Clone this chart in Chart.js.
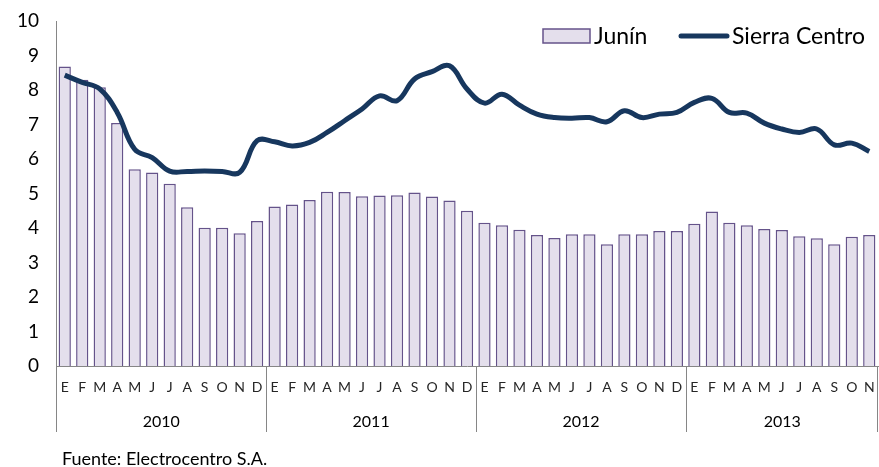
<!DOCTYPE html>
<html>
<head>
<meta charset="utf-8">
<script src="https://cdn.jsdelivr.net/npm/chart.js@4.4.1/dist/chart.umd.min.js"></script>
<style>
  html, body { margin: 0; padding: 0; background: #fff; }
  #wrap { position: relative; width: 879px; height: 467px; }
  #fuente { position: absolute; left: 62px; top: 448px; font: 18px Lato, sans-serif; color: #000; line-height: 21px; }
</style>
</head>
<body>
<div id="wrap">
  <canvas id="chart" width="879" height="467"></canvas>
  <div id="fuente">Fuente: Electrocentro S.A.</div>
</div>
<script>
const MONTHS = [
  'E', 'F', 'M', 'A', 'M', 'J', 'J', 'A', 'S', 'O', 'N', 'D',
  'E', 'F', 'M', 'A', 'M', 'J', 'J', 'A', 'S', 'O', 'N', 'D',
  'E', 'F', 'M', 'A', 'M', 'J', 'J', 'A', 'S', 'O', 'N', 'D',
  'E', 'F', 'M', 'A', 'M', 'J', 'J', 'A', 'S', 'O', 'N'
];
const YEARS = ['2010', '2011', '2012', '2013'];

const JUNIN = [
  8.68, 8.30, 8.08, 7.04, 5.70, 5.61, 5.28, 4.60, 4.01, 4.01, 3.85, 4.20,
  4.62, 4.68, 4.81, 5.05, 5.04, 4.92, 4.94, 4.95, 5.03, 4.91, 4.80, 4.50,
  4.15, 4.08, 3.95, 3.80, 3.71, 3.82, 3.82, 3.53, 3.82, 3.82, 3.91, 3.91,
  4.12, 4.48, 4.15, 4.08, 3.97, 3.94, 3.76, 3.70, 3.53, 3.75, 3.80
];
const SIERRA_CENTRO = [
  8.43, 8.22, 8.03, 7.35, 6.28, 6.04, 5.65, 5.64, 5.65, 5.64, 5.61, 6.53,
  6.50, 6.38, 6.48, 6.77, 7.11, 7.45, 7.83, 7.69, 8.32, 8.53, 8.70, 8.03,
  7.62, 7.88, 7.56, 7.30, 7.20, 7.18, 7.20, 7.08, 7.40, 7.20, 7.30, 7.35,
  7.64, 7.76, 7.35, 7.33, 7.04, 6.87, 6.77, 6.87, 6.41, 6.46, 6.22
];

const FONT = 'Lato, "Open Sans", sans-serif';
const BAR_FILL = '#E4DFEC';
const BAR_EDGE = '#65538A';
const LINE_COLOR = '#17375E';
const AXIS_COLOR = '#868686';

// year row under the month letters, plus the divider lines and the legend
const yearRowPlugin = {
  id: 'yearRow',
  afterDraw(chart) {
    const ctx = chart.ctx;
    const xs = chart.scales.x;
    const area = chart.chartArea;
    const half = (xs.getPixelForTick(1) - xs.getPixelForTick(0)) / 2;

    ctx.save();
    ctx.strokeStyle = AXIS_COLOR;
    ctx.lineWidth = 1;
    ctx.fillStyle = '#000';
    ctx.font = '16px ' + FONT;
    ctx.textAlign = 'center';
    ctx.textBaseline = 'middle';

    YEARS.forEach((year, k) => {
      const first = k * 12;
      const last = Math.min(first + 11, MONTHS.length - 1);
      const left = Math.round(xs.getPixelForTick(first) - half) + 0.5;
      const right = k === YEARS.length - 1 ? area.right : xs.getPixelForTick(last) + half;
      ctx.beginPath();
      ctx.moveTo(left, area.bottom);
      ctx.lineTo(left, 432);
      ctx.stroke();
      ctx.fillText(year, (left + right) / 2, 422);
    });
    const end = Math.round(area.right) - 0.5;
    ctx.beginPath();
    ctx.moveTo(end, area.bottom);
    ctx.lineTo(end, 432);
    ctx.stroke();

    // legend
    const ds = chart.data.datasets;
    ctx.font = '23px ' + FONT;
    ctx.textAlign = 'left';
    ctx.fillStyle = BAR_FILL;
    ctx.strokeStyle = BAR_EDGE;
    ctx.lineWidth = 1.5;
    ctx.fillRect(543, 29, 47, 14);
    ctx.strokeRect(543, 29, 47, 14);
    ctx.fillStyle = '#000';
    ctx.fillText(ds[0].label, 594, 37);

    ctx.strokeStyle = LINE_COLOR;
    ctx.lineWidth = 5;
    ctx.lineCap = 'round';
    ctx.beginPath();
    ctx.moveTo(681, 36);
    ctx.lineTo(727, 36);
    ctx.stroke();
    ctx.fillText(ds[1].label, 732, 37);
    ctx.restore();
  }
};

new Chart(document.getElementById('chart'), {
  data: {
    labels: MONTHS,
    datasets: [
      {
        type: 'bar',
        label: 'Junín',
        data: JUNIN,
        backgroundColor: BAR_FILL,
        borderColor: BAR_EDGE,
        borderWidth: 1.5,
        categoryPercentage: 1,
        barPercentage: 0.7,
        order: 2
      },
      {
        type: 'line',
        label: 'Sierra Centro',
        data: SIERRA_CENTRO,
        borderColor: LINE_COLOR,
        borderWidth: 5,
        pointRadius: 0,
        tension: 0.4,
        fill: false,
        order: 1
      }
    ]
  },
  options: {
    responsive: false,
    animation: false,
    layout: { padding: { top: 21, right: 1, left: 0, bottom: 0 } },
    plugins: {
      legend: { display: false },
      tooltip: { enabled: false }
    },
    scales: {
      x: {
        offset: true,
        grid: { display: false, drawTicks: false },
        border: { color: AXIS_COLOR, width: 1 },
        ticks: {
          autoSkip: false,
          maxRotation: 0,
          padding: 13,
          color: '#262626',
          font: { family: FONT, size: 14 }
        },
        afterFit(scale) {
          scale.height = 101;
          scale.paddingLeft = 0;
          scale.paddingRight = 0;
        }
      },
      y: {
        min: 0,
        max: 10,
        grid: { display: false, drawTicks: false },
        border: { color: AXIS_COLOR, width: 1 },
        ticks: {
          stepSize: 1,
          padding: 17,
          color: '#000',
          font: { family: FONT, size: 19 }
        },
        afterFit(scale) {
          scale.width = 56;
          scale.paddingTop = 0;
          scale.paddingBottom = 0;
        }
      }
    }
  },
  plugins: [yearRowPlugin]
});
</script>
</body>
</html>
